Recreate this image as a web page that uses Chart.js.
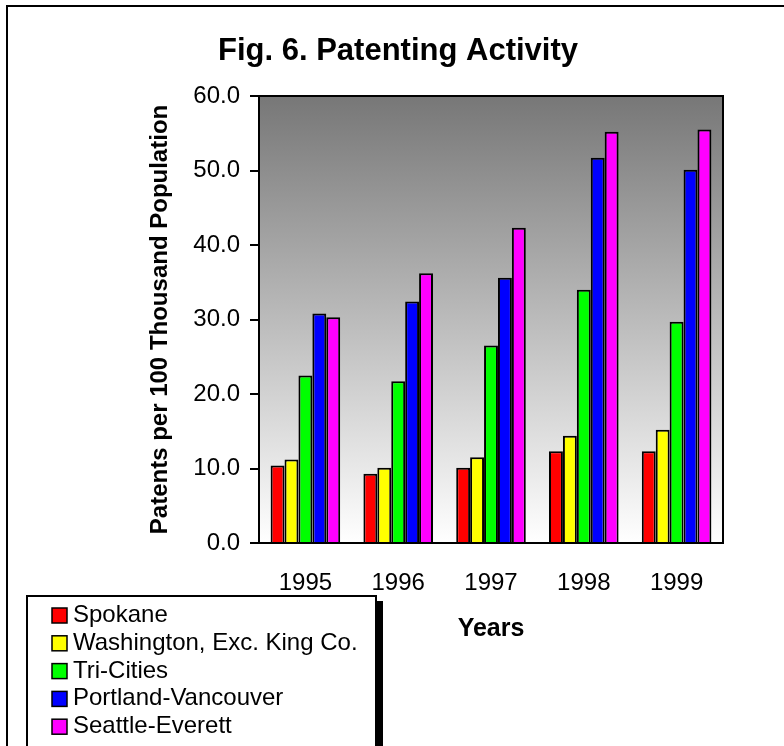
<!DOCTYPE html>
<html>
<head>
<meta charset="utf-8">
<title>Fig. 6. Patenting Activity</title>
<script src="https://cdn.jsdelivr.net/npm/chart.js@4/dist/chart.umd.min.js"></script>
<style>
  html, body { margin: 0; padding: 0; background: #fff; }
  canvas { display: block; }
</style>
</head>
<body>
<canvas id="patents" width="784" height="746"></canvas>
<script>
var years = ['1995', '1996', '1997', '1998', '1999']

var spokane    = [10.4, 9.3, 10.1, 12.3, 12.3]
var washington = [11.2, 10.1, 11.5, 14.4, 15.2]
var triCities  = [22.5, 21.7, 26.5, 34.0, 29.7]
var portland   = [30.8, 32.4, 35.6, 51.7, 50.1]
var seattle    = [30.3, 36.2, 42.3, 55.2, 55.5]

var seriesNames = ['Spokane', 'Washington, Exc. King Co.', 'Tri-Cities', 'Portland-Vancouver', 'Seattle-Everett']
var seriesColors = ['#ff0000', '#ffff00', '#00ff00', '#0000ff', '#ff00ff']

var chartTitle = 'Fig. 6. Patenting Activity'
var yTitle = 'Patents per 100 Thousand Population'
var xTitle = 'Years'

var FONT = '"Liberation Sans", Arial, sans-serif'

// grey to white fill behind the bars, plus the frames and the boxed legend
var decorations = {
  id: 'decorations',
  beforeDatasetsDraw: function (chart) {
    var ctx = chart.ctx, a = chart.chartArea
    var grad = ctx.createLinearGradient(0, a.top, 0, a.bottom)
    grad.addColorStop(0, '#777777')
    grad.addColorStop(1, '#ffffff')
    ctx.save()
    ctx.fillStyle = grad
    ctx.fillRect(a.left, a.top, a.right - a.left, a.bottom - a.top)
    ctx.restore()
  },
  afterDatasetsDraw: function (chart) {
    var ctx = chart.ctx, a = chart.chartArea
    ctx.save()
    ctx.strokeStyle = '#000'
    ctx.lineWidth = 2
    ctx.strokeRect(a.left, a.top, a.right - a.left, a.bottom - a.top)
    ctx.restore()
  },
  afterDraw: function (chart) {
    var ctx = chart.ctx
    ctx.save()

    // outer frame, runs off the right and bottom edges
    ctx.strokeStyle = '#000'
    ctx.lineWidth = 2
    ctx.beginPath()
    ctx.moveTo(7, 800)
    ctx.lineTo(7, 6)
    ctx.lineTo(800, 6)
    ctx.stroke()

    // title
    ctx.fillStyle = '#000'
    ctx.font = 'bold 31px ' + FONT
    ctx.textAlign = 'center'
    ctx.textBaseline = 'alphabetic'
    ctx.fillText(chartTitle, 398, 60)

    // legend box with its shadow
    ctx.fillStyle = '#000'
    ctx.fillRect(376, 601, 7, 200)
    ctx.fillStyle = '#fff'
    ctx.fillRect(27, 596, 349, 200)
    ctx.lineWidth = 2
    ctx.strokeRect(27, 596, 349, 200)

    ctx.font = '24px ' + FONT
    ctx.textAlign = 'left'
    chart.data.datasets.forEach(function (ds, i) {
      var base = 622 + i * 27.8
      ctx.fillStyle = ds.backgroundColor
      ctx.fillRect(52, base - 14, 15, 15)
      ctx.lineWidth = 1.5
      ctx.strokeStyle = '#000'
      ctx.strokeRect(52, base - 14, 15, 15)
      ctx.fillStyle = '#000'
      ctx.fillText(ds.label, 73, base)
    })
    ctx.restore()
  }
}

var datasets = [spokane, washington, triCities, portland, seattle].map(function (values, i) {
  return {
    label: seriesNames[i],
    data: values,
    backgroundColor: seriesColors[i],
    borderColor: '#000',
    borderWidth: 2,
    categoryPercentage: 0.75,
    barPercentage: 1.0
  }
})

var ctx = document.getElementById('patents').getContext('2d')

var patentChart = new Chart(ctx, {
  type: 'bar',
  data: { labels: years, datasets: datasets },
  plugins: [decorations],
  options: {
    responsive: false,
    animation: false,
    layout: { padding: { top: 96, left: 140, right: 61, bottom: 0 } },
    plugins: {
      legend: { display: false },
      title: { display: false },
      tooltip: { enabled: false }
    },
    scales: {
      x: {
        afterFit: function (scale) { scale.height = 203 },
        grid: { display: false, drawTicks: false },
        border: { display: false },
        ticks: { color: '#000', padding: 26, font: { family: FONT, size: 24 } },
        title: {
          display: true,
          text: xTitle,
          color: '#000',
          padding: { top: 0, bottom: 102 },
          font: { family: FONT, size: 25, weight: 'bold' }
        }
      },
      y: {
        min: 0,
        max: 60,
        afterFit: function (scale) { scale.width = 119 },
        grid: { drawOnChartArea: false, drawTicks: true, tickLength: 9, color: '#000', lineWidth: 2 },
        border: { display: false },
        ticks: {
          stepSize: 10,
          color: '#000',
          padding: 10,
          font: { family: FONT, size: 24 },
          callback: function (v) { return v.toFixed(1) }
        },
        title: {
          display: true,
          text: yTitle,
          color: '#000',
          padding: { top: 6, bottom: 0 },
          font: { family: FONT, size: 24, weight: 'bold' }
        }
      }
    }
  }
})
</script>
</body>
</html>
